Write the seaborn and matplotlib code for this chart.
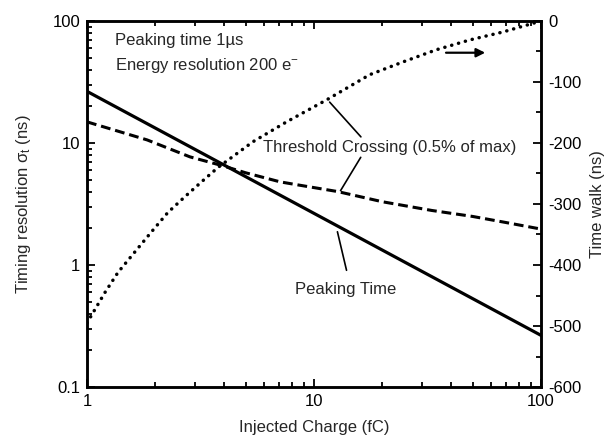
import numpy as np
import pandas as pd
import matplotlib
matplotlib.use("Agg")
import matplotlib.pyplot as plt
from matplotlib.ticker import LogLocator, MultipleLocator, NullFormatter, FixedLocator, FixedFormatter
import seaborn as sns

# Injected charge (fC) and the three curves
peak_q = [1, 100]
peak_sigma = [26.5, 0.265]

thr_q = [1, 1.84, 2.84, 3.97, 5, 7.1, 8.7, 12.7, 20, 33, 50, 70, 100]
thr_sigma = [14.9, 10.6, 7.7, 6.5, 5.7, 4.8, 4.5, 4.0, 3.3, 2.8, 2.5, 2.23, 1.97]

walk_q = [1, 1.2, 1.37, 1.63, 1.93, 2.27, 2.7, 3.21, 3.78, 5.38, 7.6, 11.4,
          17.6, 24.7, 34.7, 48.6, 68, 100]
walk_ns = [-495, -445, -412, -378, -345, -314, -288, -263, -240, -198, -165,
           -129, -88, -67, -47, -31, -18, 0]

left_ticks = [0.1, 1, 10, 100]
left_tick_labels = ["0.1", "1", "10", "100"]
bottom_ticks = [1, 10, 100]
bottom_tick_labels = ["1", "10", "100"]
right_ticks = [0, -100, -200, -300, -400, -500, -600]
right_tick_labels = ["0", "-100", "-200", "-300", "-400", "-500", "-600"]

FS = 12

sns.set_theme(style="ticks")
plt.rcParams["font.family"] = ["Liberation Sans", "DejaVu Sans"]
plt.rcParams["mathtext.fontset"] = "custom"
plt.rcParams["mathtext.rm"] = "Liberation Sans"
plt.rcParams["mathtext.it"] = "Liberation Sans:italic"

fig = plt.figure(figsize=(6.07, 4.40), dpi=100)
ax = fig.add_axes([87 / 607, 1 - 387 / 440, 454 / 607, 366 / 440])

peak_df = pd.DataFrame({"q": peak_q, "sigma": peak_sigma})
thr_df = pd.DataFrame({"q": thr_q, "sigma": thr_sigma})
walk_df = pd.DataFrame({"q": walk_q, "walk": walk_ns})

sns.lineplot(data=peak_df, x="q", y="sigma", ax=ax, color="black",
             linewidth=2.3, estimator=None)
sns.lineplot(data=thr_df, x="q", y="sigma", ax=ax, color="black",
             linewidth=2.2, linestyle=(0, (3.2, 1.6)), estimator=None)

ax.set_xscale("log")
ax.set_yscale("log")
ax.set_ylim(0.1, 100)

# Right axis: time walk
ax2 = ax.twinx()
sns.lineplot(data=walk_df, x="q", y="walk", ax=ax2, color="black",
             linewidth=2.5, linestyle=(0, (0.05, 2.0)), estimator=None,
             dash_capstyle="round")
ax2.set_xscale("log")
ax2.set_ylim(-600, 0)
ax.set_xlim(1, 100)

# Tick setup (after twinx, which resets the shared x formatter)
ax.xaxis.set_major_locator(FixedLocator(bottom_ticks))
ax.xaxis.set_major_formatter(FixedFormatter(bottom_tick_labels))
ax.xaxis.set_minor_locator(LogLocator(base=10, subs=np.arange(2, 10)))
ax.xaxis.set_minor_formatter(NullFormatter())
ax.yaxis.set_major_locator(FixedLocator(left_ticks))
ax.yaxis.set_major_formatter(FixedFormatter(left_tick_labels))
ax.yaxis.set_minor_locator(LogLocator(base=10, subs=np.arange(2, 10)))
ax.yaxis.set_minor_formatter(NullFormatter())

ax.tick_params(which="both", direction="in", top=True, right=False,
               labelsize=FS, colors="black", width=1.3)
ax.tick_params(which="major", length=6, pad=5)
ax.tick_params(which="minor", length=3.5)

ax2.yaxis.set_major_locator(FixedLocator(right_ticks))
ax2.yaxis.set_major_formatter(FixedFormatter(right_tick_labels))
ax2.yaxis.set_minor_locator(MultipleLocator(50))
ax2.tick_params(which="both", direction="in", labelsize=FS, colors="black", width=1.3)
ax2.tick_params(which="major", length=6, pad=5)
ax2.tick_params(which="minor", length=3.5)

for a in (ax, ax2):
    for s in a.spines.values():
        s.set_linewidth(1.8)
        s.set_color("black")

ax.set_xlabel("Injected Charge (fC)", fontsize=FS, labelpad=8)
ax.set_ylabel("Timing resolution σ$_{\\mathrm{t}}$ (ns)", fontsize=FS, labelpad=14)
ax2.set_ylabel("Time walk (ns)", fontsize=FS, labelpad=6)

# Condition notes
ax.text(0.062, 0.934, "Peaking time 1µs", transform=ax.transAxes,
        fontsize=FS, ha="left", va="baseline")
ax.text(0.062, 0.866, "Energy resolution 200 e$^{-}$", transform=ax.transAxes,
        fontsize=FS, ha="left", va="baseline")

# Curve labels with leader lines
ax.text(5.96, 9.27, "Threshold Crossing (0.5% of max)", fontsize=FS,
        ha="left", va="center")
ax.annotate("", xy=(11.5, 22.5), xytext=(16.4, 10.8),
            arrowprops=dict(arrowstyle="-", color="black", lw=1.2))
ax.annotate("", xy=(12.9, 3.89), xytext=(16.3, 7.98),
            arrowprops=dict(arrowstyle="-", color="black", lw=1.2))

ax.text(8.25, 0.624, "Peaking Time", fontsize=FS, ha="left", va="center")
ax.annotate("", xy=(12.6, 1.97), xytext=(14.0, 0.86),
            arrowprops=dict(arrowstyle="-", color="black", lw=1.2))

# Arrow pointing at the right-hand axis
ax2.annotate("", xy=(58.4, -52), xytext=(37.1, -52),
             arrowprops=dict(arrowstyle="-|>", color="black", lw=1.6,
                             mutation_scale=13))

fig.savefig("out.png", dpi=100)
